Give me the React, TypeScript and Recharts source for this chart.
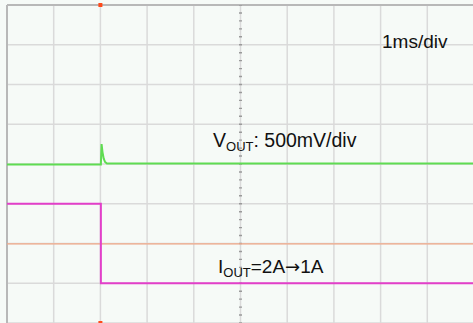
import React from 'react';
import { LineChart, Line, XAxis, YAxis, CartesianGrid, ReferenceLine, ReferenceDot } from 'recharts';

// time axis in ms (1 ms/div, 10 div), vertical in divisions (8 div)
const timeTicks = [0, 1, 2, 3, 4, 5, 6, 7, 8, 9, 10];
const divTicks = [0, 1, 2, 3, 4, 5, 6, 7, 8];

// V_OUT trace (green) with the small overshoot at the load step
const vOutTime = [0, 2.01, 2.025, 2.045, 2.07, 2.1, 2.14, 10];
const vOutDiv = [3.99, 3.99, 4.5, 4.3, 4.14, 4.05, 4.01, 4.01];

// I_OUT trace (magenta), 2A -> 1A step
const iOutTime = [0, 2.01, 2.01, 10];
const iOutDiv = [3.0, 3.0, 1.0, 1.0];

const groundLevel = 1.99;
const triggerTime = 2.0;

const vOutData = vOutTime.map((t, i) => ({ t, v: vOutDiv[i] }));
const iOutData = iOutTime.map((t, i) => ({ t, v: iOutDiv[i] }));

const font = '"Liberation Sans", Arial, sans-serif';

const Marker = (props: any) => (
  <rect x={props.cx - 2} y={props.cy - 2} width={4} height={4} fill="#ff4a1a" />
);

export default function App() {
  return (
    <div
      style={{
        position: 'absolute',
        left: 0,
        top: 0,
        width: 473,
        height: 323,
        overflow: 'hidden',
        background: '#f6faf7',
      }}
    >
      <LineChart width={475} height={324} margin={{ top: 5, left: 7, right: 1, bottom: 1 }}>
        <XAxis dataKey="t" type="number" domain={[0, 10]} ticks={timeTicks} hide allowDuplicatedCategory={false} />
        <YAxis type="number" domain={[0, 8]} ticks={divTicks} hide />
        <CartesianGrid stroke="#dadada" strokeWidth={1.5} />
        <ReferenceLine x={0} stroke="#b8b8b8" strokeWidth={2} />
        <ReferenceLine y={8} stroke="#b8b8b8" strokeWidth={2} />
        <ReferenceLine x={5} stroke="#9a9a9a" strokeWidth={3} strokeDasharray="1.4 6.55" strokeDashoffset={0.7} />
        <ReferenceLine y={groundLevel} stroke="#f2a887" strokeWidth={1.2} />
        <Line
          data={iOutData}
          dataKey="v"
          stroke="#e23fc9"
          strokeWidth={2}
          dot={false}
          type="linear"
          isAnimationActive={false}
        />
        <Line
          data={vOutData}
          dataKey="v"
          stroke="#5fdc52"
          strokeWidth={2}
          dot={false}
          type="linear"
          isAnimationActive={false}
        />
        <ReferenceDot x={triggerTime} y={8} r={2} shape={Marker} ifOverflow="visible" />
        <ReferenceDot x={triggerTime} y={0} r={2} shape={Marker} ifOverflow="visible" />
      </LineChart>
      <svg
        width={473}
        height={323}
        style={{ position: 'absolute', left: 0, top: 0, pointerEvents: 'none' }}
        fontFamily={font}
        fill="#111"
      >
        <text x={382} y={47.5} fontSize={19}>1ms/div</text>
        <text x={213} y={147} fontSize={19.5}>
          V
          <tspan fontSize={13} dy={3.5}>OUT</tspan>
          <tspan dy={-3.5}>: 500mV/div</tspan>
        </text>
        <text x={218} y={273.3} fontSize={19}>
          I
          <tspan fontSize={13} dy={3.5}>OUT</tspan>
          <tspan dy={-3.5}>=2A</tspan>
          <tspan fontFamily='"DejaVu Sans", sans-serif' fontSize={18}>→</tspan>
          <tspan>1A</tspan>
        </text>
      </svg>
    </div>
  );
}
